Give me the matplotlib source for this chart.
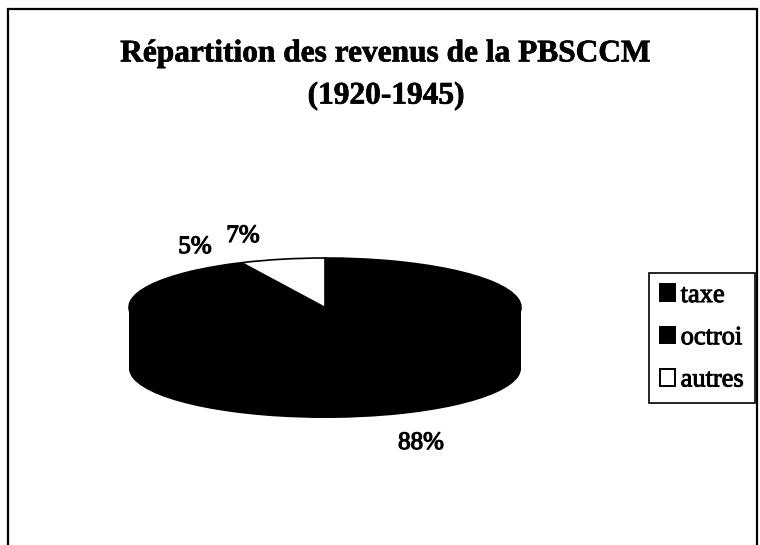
import matplotlib
matplotlib.use("Agg")
import matplotlib.pyplot as plt
from matplotlib.patches import Rectangle
import matplotlib.patheffects as pe

categories = ["taxe", "octroi", "autres"]
values = [88, 5, 7]
pct_labels = ["88%", "5%", "7%"]
title_lines = "Répartition des revenus de la PBSCCM\n(1920-1945)"

W, H = 760, 545
plt.rcParams["font.family"] = ["Liberation Serif", "DejaVu Serif"]
fig = plt.figure(figsize=(W / 100, H / 100), dpi=100, facecolor="white")

# pixel geometry of the flattened 3-D disc
cx, cy, rx, ry, depth = 325, 307.5, 196, 49.5, 61
xspan, yspan = 1.5, 3.0
ax = fig.add_axes([(cx - xspan * rx) / W, 1 - (cy + yspan * ry) / H,
                   2 * xspan * rx / W, 2 * yspan * ry / H])
colors = ["black", "black", "white"]

# side wall: stacked copies of the pie, all black
steps = 40
for i in range(steps, 0, -1):
    ax.pie(values, startangle=90, counterclock=False, colors=["black"] * 3,
           center=(0, -depth / ry * i / steps), radius=1)
wedges, _ = ax.pie(values, startangle=90, counterclock=False, colors=colors,
                   center=(0, 0), radius=1,
                   wedgeprops=dict(edgecolor="black", linewidth=1.2))
ax.set_aspect("auto")
ax.set_xlim(-xspan, xspan)
ax.set_ylim(-yspan, yspan)
ax.axis("off")

def ptext(x, y, s, size, weight="normal", stroke=0.0, **kw):
    t = fig.text(x / W, 1 - y / H, s, fontsize=size, fontweight=weight,
                 color="black", **kw)
    if stroke:
        t.set_path_effects([pe.withStroke(linewidth=stroke, foreground="black")])
    return t

ptext(386, 75, title_lines, 22.6, "bold", stroke=0.5,
      ha="center", va="center", linespacing=1.6)

for (x, y), s in zip([(421, 443), (195, 247), (243, 236)], pct_labels):
    ptext(x, y, s, 18, ha="center", va="center", stroke=0.9)

# outer frame, cut by the bottom of the page
fig.add_artist(Rectangle((8 / W, -0.05), (757 - 8) / W, 1.05 - 9.5 / H,
                         transform=fig.transFigure, fill=False,
                         edgecolor="black", linewidth=1.6, clip_on=False))

# legend
handles = [Rectangle((0, 0), 1, 1, facecolor=c, edgecolor="black", linewidth=1.4)
           for c in colors]
leg = fig.legend(handles, categories, loc="upper left",
                 bbox_to_anchor=(649 / W, 1 - 273 / H), borderaxespad=0,
                 fontsize=19, frameon=True, fancybox=False, edgecolor="black",
                 handlelength=0.55, handleheight=0.6, handletextpad=0.22,
                 labelspacing=0.74, borderpad=0.43, framealpha=1)
leg.get_frame().set_linewidth(1.2)
for t in leg.get_texts():
    t.set_path_effects([pe.withStroke(linewidth=0.7, foreground="black")])

fig.savefig("out.png", dpi=100)
